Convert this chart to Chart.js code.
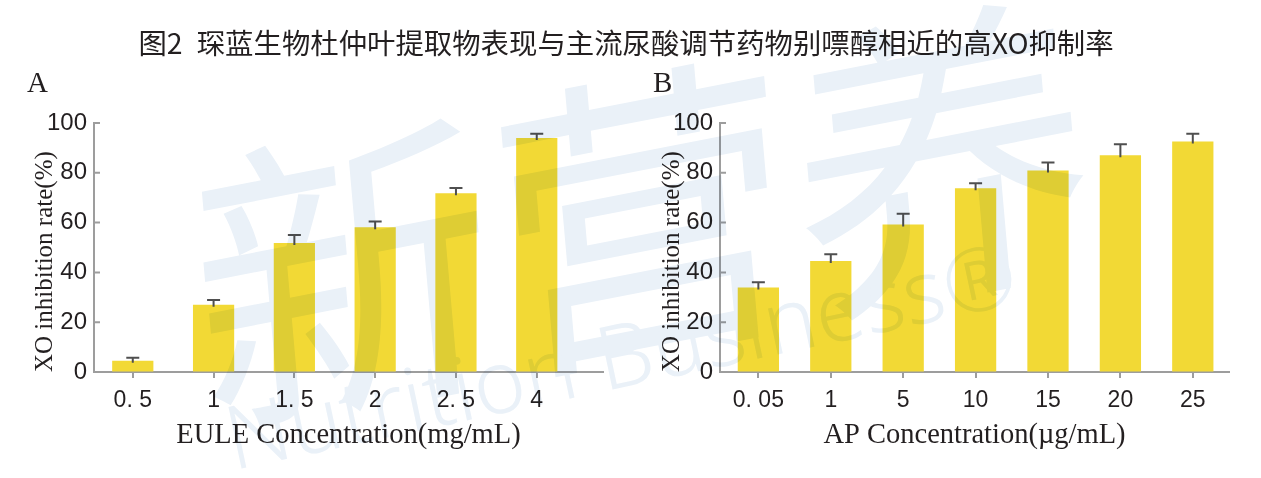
<!DOCTYPE html>
<html>
<head>
<meta charset="utf-8">
<script src="https://cdn.jsdelivr.net/npm/chart.js@4.4.1/dist/chart.umd.min.js"></script>
<style>
  body { margin: 0; background: #fff; }
  #wrap { position: relative; width: 1261px; height: 478px; overflow: hidden; background: #fff; }
  #title {
    position: absolute; left: 0; top: 22px; width: 1252px; text-align: center;
    font: 28.4px/40px "Noto Sans CJK SC", "Noto Sans", sans-serif; color: #231f20;
  }
  .panel { position: absolute; top: 67px; font: 29px/30px "Liberation Serif", serif; color: #231f20; }
  #labA { left: 27px; }
  #labB { left: 653px; }
  canvas { position: absolute; top: 0; }
  #chartA { left: 0; }
  #chartB { left: 630px; }
  #mark { position: absolute; left: 0; top: 0; width: 1261px; height: 478px; pointer-events: none; mix-blend-mode: multiply; }
  #mark span { position: absolute; white-space: nowrap; color: #eaf1f8; transform-origin: 0 100%; }
  #mark .cn { left: 205px; top: 135px; font: 400 305px/305px "Noto Sans CJK SC", sans-serif; transform: rotate(-11deg) skewX(-6deg); }
  #mark .en { left: 235px; top: 392px; font: 300 88px/88px "Noto Sans", sans-serif; transform: rotate(-12deg); }
</style>
</head>
<body>
<div id="wrap">
  <canvas id="chartA" width="630" height="478"></canvas>
  <canvas id="chartB" width="631" height="478"></canvas>
  <div id="title">图2&ensp;琛蓝生物杜仲叶提取物表现与主流尿酸调节药物别嘌醇相近的高XO抑制率</div>
  <div class="panel" id="labA">A</div>
  <div class="panel" id="labB">B</div>
  <div id="mark"><span class="cn">新营养</span><span class="en">Nutrition Business®</span></div>
</div>
<script>
const labelsA = ['0. 5', '1', '1. 5', '2', '2. 5', '4'];
const valuesA = [4.5, 27.0, 51.8, 58.1, 71.8, 94.0];
const errorsA = [1.2, 1.9, 3.2, 2.3, 2.1, 1.7];

const labelsB = ['0. 05', '1', '5', '10', '15', '20', '25'];
const valuesB = [33.9, 44.6, 59.2, 73.8, 80.9, 87.0, 92.6];
const errorsB = [2.1, 2.7, 4.4, 2.0, 3.2, 4.5, 3.1];

const yMin = 0, yMax = 100, yStep = 20;

const barColor = '#f2d935';
const axisColor = '#9d9d9d';
const textColor = '#231f20';

// error bars + inward y ticks
const errorBars = {
  id: 'errorBars',
  afterDatasetsDraw(chart, args, opts) {
    const ctx = chart.ctx;
    const y = chart.scales.y;
    const data = chart.data.datasets[0].data;
    ctx.save();
    ctx.strokeStyle = '#4f4f4f';
    ctx.lineWidth = 2;
    chart.getDatasetMeta(0).data.forEach((bar, i) => {
      const top = y.getPixelForValue(data[i].y + opts.errors[i]);
      ctx.beginPath();
      ctx.moveTo(bar.x, bar.y + 2);
      ctx.lineTo(bar.x, top);
      ctx.moveTo(bar.x - 6.5, top);
      ctx.lineTo(bar.x + 6.5, top);
      ctx.stroke();
    });
    ctx.strokeStyle = axisColor;
    ctx.beginPath();
    y.ticks.forEach(t => {
      const py = y.getPixelForValue(t.value);
      ctx.moveTo(y.right, py);
      ctx.lineTo(y.right + 6, py);
    });
    ctx.stroke();
    ctx.restore();
  }
};

function makeChart(id, labels, values, errors, xTitle, box) {
  new Chart(document.getElementById(id), {
    type: 'bar',
    data: {
      datasets: [{
        data: values.map((v, i) => ({ x: i, y: v })),
        backgroundColor: barColor,
        borderWidth: 0,
        barPercentage: box.bar,
        categoryPercentage: 1
      }]
    },
    plugins: [errorBars],
    options: {
      responsive: false,
      animation: false,
      layout: { padding: { top: box.top, right: box.right, left: 0, bottom: 0 } },
      plugins: {
        legend: { display: false },
        tooltip: { enabled: false },
        errorBars: { errors: errors }
      },
      scales: {
        x: {
          type: 'linear',
          min: box.min,
          max: box.max,
          offset: false,
          z: 1,
          afterBuildTicks: s => { s.ticks = labels.map((_, i) => ({ value: i })); },
          afterFit: s => { s.height = box.xh; },
          grid: { offset: false, drawOnChartArea: false, drawTicks: true, tickLength: 6, color: axisColor, lineWidth: 2 },
          border: { display: true, color: axisColor, width: 2 },
          ticks: {
            padding: 9,
            color: textColor,
            font: { family: '"Liberation Sans", Arial, sans-serif', size: 23 },
            callback: v => labels[v]
          },
          title: {
            display: true,
            text: xTitle,
            color: textColor,
            padding: { top: 0, bottom: 25 },
            font: { family: '"Liberation Serif", "Times New Roman", serif', size: 28.5 }
          }
        },
        y: {
          min: yMin,
          max: yMax,
          afterFit: s => { s.width = box.yw; },
          grid: { drawOnChartArea: false, drawTicks: false },
          border: { display: true, color: axisColor, width: 2 },
          ticks: {
            stepSize: yStep,
            padding: 7,
            color: textColor,
            font: { family: '"Liberation Sans", Arial, sans-serif', size: 24 }
          },
          title: {
            display: true,
            text: 'XO inhibition rate(%)',
            align: 'start',
            color: textColor,
            padding: { top: box.yt, bottom: 0 },
            font: { family: '"Liberation Serif", "Times New Roman", serif', size: 25 }
          }
        }
      }
    }
  });
}

makeChart('chartA', labelsA, valuesA, errorsA, 'EULE Concentration(mg/mL)',
  { top: 123, right: 27, yw: 94, xh: 106, min: -0.48, max: 5.82, bar: 0.51, yt: 30 });
makeChart('chartB', labelsB, valuesB, errorsB, 'AP Concentration(µg/mL)',
  { top: 123, right: 32, yw: 90, xh: 106, min: -0.53, max: 6.5, bar: 0.57, yt: 27 });
</script>
</body>
</html>
